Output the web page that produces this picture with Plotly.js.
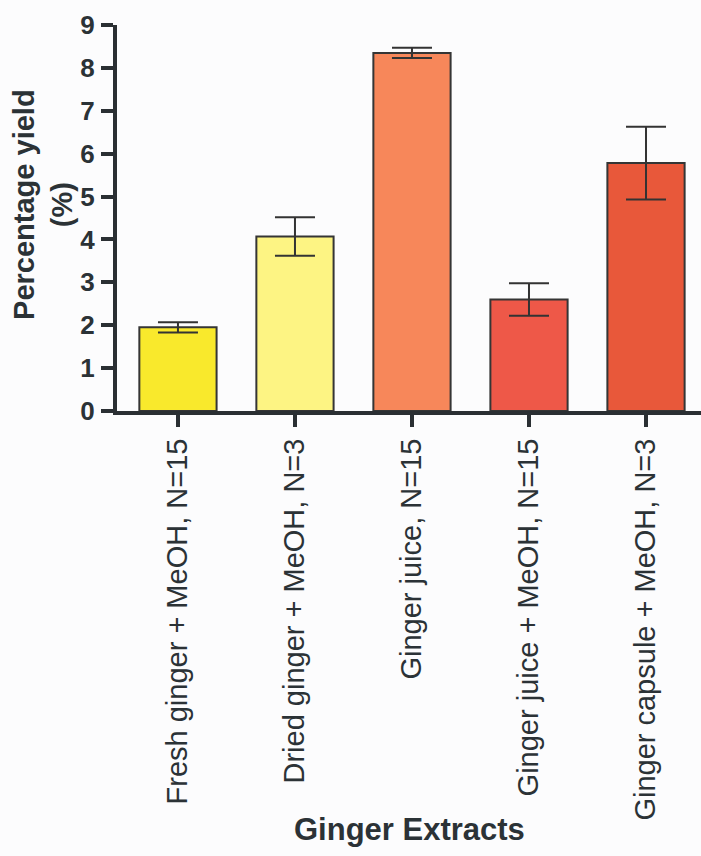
<!DOCTYPE html>
<html>
<head>
<meta charset="utf-8">
<script src="https://cdn.plot.ly/plotly-3.0.1.min.js"></script>
<style>
  html, body { margin: 0; padding: 0; background: #fcfcfd; }
  #chart { width: 701px; height: 856px; }
</style>
</head>
<body>
<div id="chart"></div>
<script>
const categories = [
  "Fresh ginger + MeOH, N=15",
  "Dried ginger + MeOH, N=3",
  "Ginger juice, N=15",
  "Ginger juice + MeOH, N=15",
  "Ginger capsule + MeOH, N=3"
];
const meanYield = [1.95, 4.07, 8.35, 2.6, 5.78];
const errorYield = [0.12, 0.45, 0.12, 0.38, 0.85];
const barColors = ["#f9e92c", "#fdf483", "#f7875a", "#ee5848", "#e8583a"];
const yTickValues = [0, 1, 2, 3, 4, 5, 6, 7, 8, 9];

const textColor = "#2b3236";
const axisColor = "#2a2f33";
const fontFamily = "Arial, 'Liberation Sans', sans-serif";

const trace = {
  type: "bar",
  x: categories,
  y: meanYield,
  width: 0.66,
  marker: { color: barColors, line: { color: "#353535", width: 2 } },
  error_y: { type: "data", array: errorYield, visible: true, color: "#333333", thickness: 2, width: 20 },
  hoverinfo: "x+y"
};

const layout = {
  width: 701,
  height: 856,
  margin: { l: 117, r: 0, t: 25, b: 445 },
  paper_bgcolor: "#fcfcfd",
  plot_bgcolor: "#fcfcfd",
  showlegend: false,
  font: { family: fontFamily, color: textColor },
  xaxis: {
    type: "category",
    range: [-0.521, 4.47],
    showline: true, linecolor: axisColor, linewidth: 4,
    ticks: "outside", ticklen: 12, tickwidth: 4, tickcolor: axisColor,
    tickangle: -90,
    tickfont: { size: 29, color: textColor, family: fontFamily },
    showgrid: false, zeroline: false, automargin: false,
    fixedrange: true
  },
  yaxis: {
    range: [0, 9],
    tickvals: yTickValues,
    showline: true, linecolor: axisColor, linewidth: 4,
    ticks: "outside", ticklen: 12, tickwidth: 4, tickcolor: axisColor,
    tickfont: { size: 26, color: textColor, family: fontFamily, weight: "bold" },
    ticklabelstandoff: 1,
    showgrid: false, zeroline: false, automargin: false,
    fixedrange: true
  },
  annotations: [
    {
      text: "<b>Percentage yield<br>(%)</b>",
      xref: "paper", yref: "paper",
      x: -0.126, y: 0.535,
      xanchor: "center", yanchor: "middle",
      textangle: -90,
      showarrow: false,
      font: { size: 29, color: textColor, family: fontFamily }
    },
    {
      text: "<b>Ginger Extracts</b>",
      xref: "paper", yref: "paper",
      x: 0.5, y: -1.085,
      xanchor: "center", yanchor: "middle",
      showarrow: false,
      font: { size: 31, color: textColor, family: fontFamily }
    }
  ]
};

Plotly.newPlot("chart", [trace], layout, { displayModeBar: false, staticPlot: true });
</script>
</body>
</html>
